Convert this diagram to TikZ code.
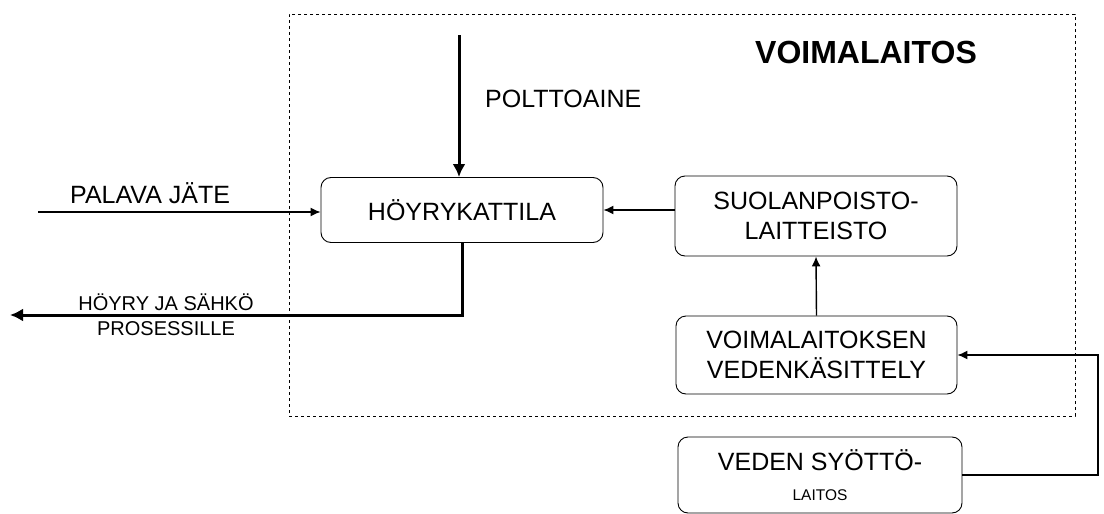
\documentclass[tikz,border=0pt]{standalone}
\usepackage{fontspec}
\setmainfont{Liberation Sans}
\usetikzlibrary{arrows.meta}
\begin{document}
\begin{tikzpicture}[x=1pt,y=-1pt,
  blk/.style={draw, line width=0.9pt, rounded corners=10pt, align=center, inner sep=0pt,
    font=\fontsize{25}{30}\selectfont},
  thinarr/.style={line width=1.4pt, -{Latex[length=10pt,width=9pt]}},
  thickarr/.style={line width=3pt, -{Latex[length=13pt,width=13pt]}},
  lbl/.style={font=\fontsize{25}{30}\selectfont, inner sep=0pt}]
\useasboundingbox (0,0) rectangle (1104,514);
\node[draw, dashed, line width=0.6pt, minimum width=786pt, minimum height=402pt, inner sep=0pt] (plant) at (682,215) {};
\node[font=\fontsize{32}{38}\bfseries\selectfont, inner sep=0pt] (title) at (866,52) {VOIMALAITOS};
\node[blk, minimum width=282pt, minimum height=65pt] (hk) at (462,210) {HÖYRYKATTILA};
\node[blk, minimum width=282pt, minimum height=80pt] (suol) at (816,216) {SUOLANPOISTO-\\LAITTEISTO};
\node[blk, minimum width=281pt, minimum height=78pt] (vk) at (816.5,355) {VOIMALAITOKSEN\\VEDENKÄSITTELY};
\node[blk, minimum width=284pt, minimum height=76pt] (vs) at (820,475) {VEDEN SYÖTTÖ-\\{\fontsize{15.5}{20}\selectfont LAITOS}};
\coordinate (ftop) at (459,35);
\coordinate (pj) at (38,212);
\coordinate (out) at (10,315);
\coordinate (rc) at (1098,400);
\node[lbl, anchor=west] (polt) at (485,99) {POLTTOAINE};
\node[lbl, anchor=west] (pal) at (70,193) {PALAVA JÄTE};
\node[lbl, font=\fontsize{20}{25}\selectfont, align=center] (hoy) at (166,315) {HÖYRY JA SÄHKÖ\\PROSESSILLE};
\draw[thickarr] (ftop) -- (ftop |- hk.north);
\draw[thinarr] (pj) -- (pj -| hk.west);
\draw[thickarr] (hk.south) |- (out);
\draw[thinarr] (suol.west |- hk.east) -- (hk.east);
\draw[thinarr] (vk.north) -- (suol.south);
\draw[thinarr] (vs.east) -- (vs.east -| rc) -- (rc |- vk.east) -- (vk.east);
\end{tikzpicture}
\end{document}
